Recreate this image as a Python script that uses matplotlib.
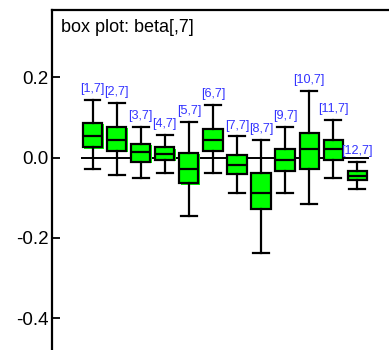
import matplotlib
matplotlib.use("Agg")
import matplotlib.pyplot as plt
import matplotlib.transforms as mtransforms

plt.rcParams['font.family'] = ['Liberation Sans', 'DejaVu Sans']

# box statistics (per column of beta[,7])
labels = ["[1,7]", "[2,7]", "[3,7]", "[4,7]", "[5,7]", "[6,7]",
          "[7,7]", "[8,7]", "[9,7]", "[10,7]", "[11,7]", "[12,7]"]
whisk_hi = [0.144, 0.136, 0.077, 0.057, 0.089, 0.131, 0.053, 0.044, 0.076, 0.167, 0.094, -0.010]
q3 = [0.086, 0.077, 0.035, 0.026, 0.012, 0.072, 0.007, -0.038, 0.022, 0.062, 0.044, -0.032]
med = [0.054, 0.044, 0.013, 0.009, -0.027, 0.044, -0.019, -0.087, -0.005, 0.022, 0.022, -0.046]
q1 = [0.026, 0.017, -0.010, -0.006, -0.064, 0.017, -0.041, -0.128, -0.032, -0.027, -0.005, -0.056]
whisk_lo = [-0.027, -0.042, -0.051, -0.037, -0.145, -0.037, -0.087, -0.237, -0.087, -0.115, -0.051, -0.078]

positions = list(range(1, len(labels) + 1))

fig = plt.figure(figsize=(3.89, 3.5), dpi=100)
ax = fig.add_axes([51.5 / 389, 0, 1 - 51.5 / 389, 340.5 / 350])

# reference line at zero
ax.hlines(0, 0.5, len(labels) + 0.5, color="black", lw=1.4, zorder=1)

# green "shadow" a pixel off to the lower right
shift = mtransforms.offset_copy(ax.transData, fig=fig, x=1.3, y=-1.3, units="dots")
heights = [a - b for a, b in zip(q3, q1)]
ax.bar(positions, heights, bottom=q1, width=0.8, color="#00ff00",
       transform=shift, zorder=2)

stats = []
for i in range(len(labels)):
    stats.append({"whishi": whisk_hi[i], "q3": q3[i], "med": med[i],
                  "q1": q1[i], "whislo": whisk_lo[i], "fliers": []})

ax.bxp(stats, positions=positions, widths=0.8, capwidths=0.65,
       patch_artist=True, showfliers=False, manage_ticks=False,
       boxprops=dict(facecolor="#00ff00", edgecolor="black", linewidth=1.6),
       medianprops=dict(color="black", linewidth=1.6),
       whiskerprops=dict(color="black", linewidth=1.6),
       capprops=dict(color="black", linewidth=1.6), zorder=3)

for p, lab, top in zip(positions, labels, whisk_hi):
    ax.annotate(lab, (p, top), xytext=(0, 3.5), textcoords="offset points",
                ha="center", va="bottom", color="#3434ff", fontsize=9.1)

ax.text(0.028, 0.935, "box plot: beta[,7]", transform=ax.transAxes,
        fontsize=13, va="baseline", ha="left")

ax.set_xlim(-0.71, 13.32)
ax.set_ylim(-0.479, 0.369)
ax.set_yticks([-0.4, -0.2, 0.0, 0.2])
ax.set_yticklabels(["-0.4", "-0.2", "0.0", "0.2"])
ax.set_xticks([])
ax.tick_params(axis="y", direction="in", length=5.5, width=1.3,
               labelsize=13.5, pad=2)
for s in ["right", "bottom"]:
    ax.spines[s].set_visible(False)
for s in ["left", "top"]:
    ax.spines[s].set_linewidth(1.6)

fig.savefig("out.png", dpi=100)
